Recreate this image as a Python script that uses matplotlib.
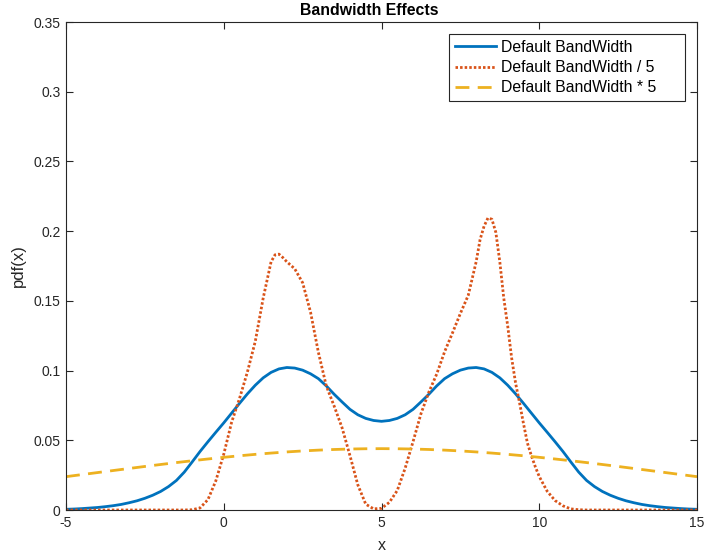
import matplotlib
matplotlib.use("Agg")
import matplotlib.pyplot as plt

plt.rcParams['font.family'] = ['Liberation Sans', 'DejaVu Sans']

# ---- data ----
x_blue = [-5.00, -4.75, -4.50, -4.25, -4.00, -3.75, -3.50, -3.25, -3.00, -2.75,
          -2.50, -2.25, -2.00, -1.75, -1.50, -1.25, -1.00, -0.75, -0.50, -0.25,
          0.00, 0.25, 0.50, 0.75, 1.00, 1.25, 1.50, 1.75, 2.00, 2.25,
          2.50, 2.75, 3.00, 3.25, 3.50, 3.75, 4.00, 4.25, 4.50, 4.75,
          5.00, 5.25, 5.50, 5.75, 6.00, 6.25, 6.50, 6.75, 7.00, 7.25,
          7.50, 7.75, 8.00, 8.25, 8.50, 8.75, 9.00, 9.25, 9.50, 9.75,
          10.00, 10.25, 10.50, 10.75, 11.00, 11.25, 11.50, 11.75, 12.00, 12.25,
          12.50, 12.75, 13.00, 13.25, 13.50, 13.75, 14.00, 14.25, 14.50, 14.75, 15.00]
y_blue = [0.0005, 0.0007, 0.0010, 0.0014, 0.0018, 0.0024, 0.0031, 0.0040, 0.0052, 0.0066,
          0.0084, 0.0106, 0.0133, 0.0168, 0.0212, 0.0272, 0.0345, 0.0420, 0.0490, 0.0558,
          0.0625, 0.0695, 0.0765, 0.0833, 0.0895, 0.0948, 0.0987, 0.1012, 0.1022, 0.1018,
          0.1003, 0.0977, 0.0942, 0.0890, 0.0830, 0.0775, 0.0722, 0.0683, 0.0657, 0.0642,
          0.0636, 0.0642, 0.0657, 0.0683, 0.0722, 0.0775, 0.0830, 0.0890, 0.0942, 0.0977,
          0.1003, 0.1018, 0.1022, 0.1012, 0.0987, 0.0948, 0.0895, 0.0833, 0.0765, 0.0695,
          0.0625, 0.0558, 0.0490, 0.0420, 0.0345, 0.0272, 0.0212, 0.0168, 0.0133, 0.0106,
          0.0084, 0.0066, 0.0052, 0.0040, 0.0031, 0.0024, 0.0018, 0.0014, 0.0010, 0.0007, 0.0005]

x_red = [-5.00, -4.00, -3.00, -2.00, -1.25, -1.00, -0.75, -0.50, -0.25, 0.00,
         0.25, 0.50, 0.75, 1.00, 1.25, 1.50, 1.625, 1.75, 1.875, 2.00,
         2.25, 2.50, 2.75, 3.00, 3.25, 3.50, 3.75, 4.00, 4.25, 4.50,
         4.75, 5.00, 5.25, 5.50, 5.75, 6.00, 6.25, 6.50, 6.75, 7.00,
         7.25, 7.50, 7.75, 8.00, 8.125, 8.25, 8.375, 8.50, 8.625, 8.75,
         8.875, 9.00, 9.125, 9.25, 9.375, 9.50, 9.625, 9.75, 9.875, 10.00,
         10.25, 10.50, 10.75, 11.00, 11.25, 11.50, 12.00, 13.00, 14.00, 15.00]
y_red = [0.0000, 0.0000, 0.0000, 0.0000, 0.0000, 0.0002, 0.0015, 0.0075, 0.0210, 0.0400,
         0.0630, 0.0800, 0.0990, 0.1210, 0.1520, 0.1780, 0.1830, 0.1835, 0.1810, 0.1780,
         0.1730, 0.1630, 0.1420, 0.1130, 0.0890, 0.0745, 0.0590, 0.0390, 0.0180, 0.0042,
         0.0008, 0.0012, 0.0055, 0.0140, 0.0300, 0.0490, 0.0690, 0.0845, 0.0975, 0.1135,
         0.1270, 0.1410, 0.1540, 0.1780, 0.1940, 0.2035, 0.2095, 0.2085, 0.1990, 0.1780,
         0.1520, 0.1320, 0.1090, 0.0910, 0.0770, 0.0620, 0.0480, 0.0390, 0.0310, 0.0240,
         0.0135, 0.0068, 0.0030, 0.0008, 0.0002, 0.0000, 0.0000, 0.0000, 0.0000, 0.0000]

x_yellow = [-5.0, -4.5, -4.0, -3.5, -3.0, -2.5, -2.0, -1.5, -1.0, -0.5,
            0.0, 0.5, 1.0, 1.5, 2.0, 2.5, 3.0, 3.5, 4.0, 4.5,
            5.0, 5.5, 6.0, 6.5, 7.0, 7.5, 8.0, 8.5, 9.0, 9.5,
            10.0, 10.5, 11.0, 11.5, 12.0, 12.5, 13.0, 13.5, 14.0, 14.5, 15.0]
y_yellow = [0.02391, 0.02538, 0.02685, 0.02832, 0.02978, 0.03123, 0.03264, 0.03401, 0.03533, 0.03659,
            0.03778, 0.03889, 0.03991, 0.04083, 0.04165, 0.04236, 0.04294, 0.04340, 0.04373, 0.04393,
            0.04400, 0.04393, 0.04373, 0.04340, 0.04294, 0.04236, 0.04165, 0.04083, 0.03991, 0.03889,
            0.03778, 0.03659, 0.03533, 0.03401, 0.03264, 0.03123, 0.02978, 0.02832, 0.02685, 0.02538, 0.02391]

labels = ['Default BandWidth', 'Default BandWidth / 5', 'Default BandWidth * 5']
x_ticks = [-5, 0, 5, 10, 15]
x_ticklabels = ['-5', '0', '5', '10', '15']
y_ticks = [0, 0.05, 0.1, 0.15, 0.2, 0.25, 0.3, 0.35]
y_ticklabels = ['0', '0.05', '0.1', '0.15', '0.2', '0.25', '0.3', '0.35']

# ---- drawing ----
W, H = 704, 554
fig = plt.figure(figsize=(W / 100, H / 100), dpi=100)
ax = fig.add_axes([66 / W, (H - 510) / H, 631 / W, 488 / H])

dark = '#262626'
ax.plot(x_blue, y_blue, color='#0072BD', lw=2.0, label=labels[0])
ax.plot(x_red, y_red, color='#D95319', lw=2.0, linestyle=(0, (0.9, 0.75)), label=labels[1])
ax.plot(x_yellow, y_yellow, color='#EDB120', lw=2.0, linestyle=(0, (5, 3)), label=labels[2])

ax.set_xlim(-5, 15)
ax.set_ylim(0, 0.35)
ax.set_xticks(x_ticks)
ax.set_xticklabels(x_ticklabels)
ax.set_yticks(y_ticks)
ax.set_yticklabels(y_ticklabels)
ax.tick_params(direction='in', length=5, width=0.8, top=True, right=True,
               colors=dark, labelsize=10, pad=4)
for s in ax.spines.values():
    s.set_color(dark)
    s.set_linewidth(0.8)

ax.set_title('Bandwidth Effects', fontsize=11.4, fontweight='bold', color='black',
             pad=5, x=(369 - 66) / 631)
ax.set_xlabel('x', fontsize=11.5, color=dark, labelpad=6)
ax.set_ylabel('pdf(x)', fontsize=12, color=dark, labelpad=5)

# legend box spans pixels 449..685 horizontally, top at 34
lx0 = (449 - 66) / 631
lx1 = (685 - 66) / 631
ltop = (510 - 34) / 488
leg = ax.legend(loc='upper left', bbox_to_anchor=(lx0, ltop - 0.2, lx1 - lx0, 0.2),
                mode='expand', borderaxespad=0,
                fontsize=11.3, fancybox=False, framealpha=1, edgecolor=dark,
                handlelength=2.6, handletextpad=0.32, labelspacing=0.33,
                borderpad=0.38)
leg.get_frame().set_linewidth(0.8)
for t in leg.get_texts():
    t.set_color('black')

fig.savefig('out.png', dpi=100)
